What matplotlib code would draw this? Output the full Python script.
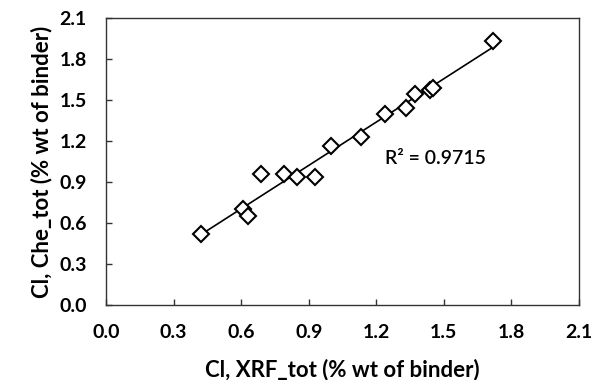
import numpy as np
import matplotlib
matplotlib.use('Agg')
import matplotlib.pyplot as plt

# Cl totals (% wt of binder)
xrf_tot = [0.42, 0.61, 0.63, 0.69, 0.79, 0.85, 0.93, 1.00, 1.13, 1.24, 1.33, 1.37, 1.44, 1.45, 1.72]
che_tot = [0.52, 0.70, 0.65, 0.96, 0.96, 0.94, 0.94, 1.165, 1.23, 1.40, 1.44, 1.545, 1.575, 1.585, 1.935]
ticks = [0.0, 0.3, 0.6, 0.9, 1.2, 1.5, 1.8, 2.1]
r2_label = 'R² = 0.9715'

plt.rcParams['font.family'] = ['Lato', 'DejaVu Sans']

fig = plt.figure(figsize=(6.01, 3.8), dpi=100)
ax = fig.add_axes([0.1764, 0.1974, 0.787, 0.755])

# linear trend line over the data range
slope, intercept = np.polyfit(xrf_tot, che_tot, 1)
xl = np.array([min(xrf_tot), max(xrf_tot)])
ax.plot(xl, intercept + slope * xl, color='black', linewidth=1.2, zorder=2)

ax.plot(xrf_tot, che_tot, linestyle='none', marker='D', markersize=8.5,
        markerfacecolor='white', markeredgecolor='black', markeredgewidth=1.5, zorder=3)

ax.text(1.239, 1.075, r2_label, fontsize=14, fontweight='semibold', va='center', ha='left')

ax.set_xlim(0, 2.1)
ax.set_ylim(0, 2.1)
ax.set_xticks(ticks)
ax.set_yticks(ticks)
ax.set_xticklabels([f'{t:.1f}' for t in ticks], fontsize=14, fontweight='bold')
ax.set_yticklabels([f'{t:.1f}' for t in ticks], fontsize=14, fontweight='bold')
ax.tick_params(axis='x', direction='in', length=4, width=1, colors='#333333', labelcolor='black', pad=14)
ax.tick_params(axis='y', direction='in', length=4, width=1, colors='#333333', labelcolor='black', pad=14)
for s in ax.spines.values():
    s.set_linewidth(1.0)
    s.set_color('#333333')

ax.set_xlabel('Cl, XRF_tot (% wt of binder)', fontsize=16, fontweight='bold', labelpad=12.5)
ax.set_ylabel('Cl, Che_tot (% wt of binder)', fontsize=16, fontweight='bold', labelpad=5)

fig.savefig('out.png', dpi=100)
